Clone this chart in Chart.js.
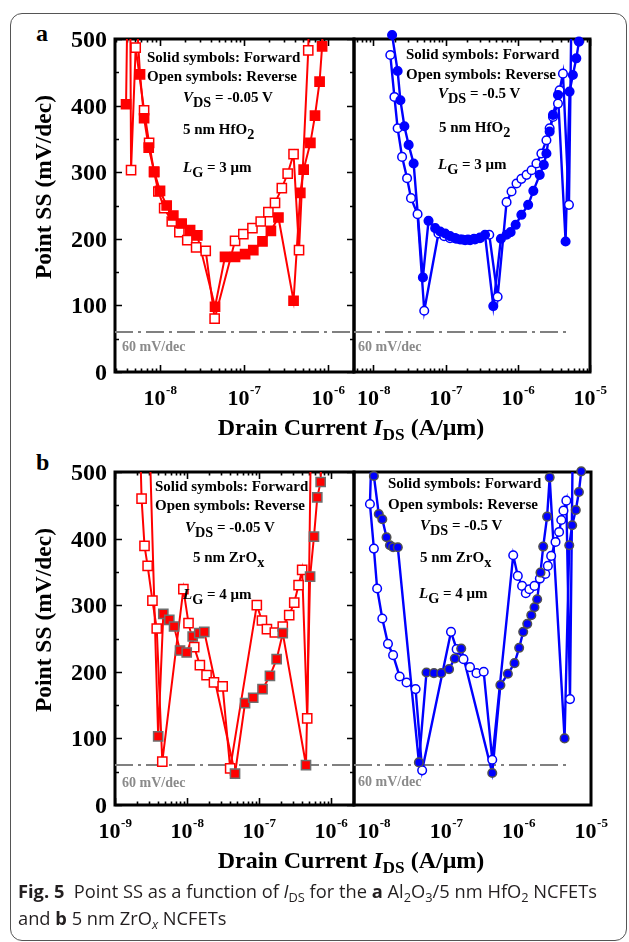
<!DOCTYPE html>
<html>
<head>
<meta charset="utf-8">
<title>Point SS vs drain current</title>
<script src="https://cdn.jsdelivr.net/npm/chart.js@4.4.1/dist/chart.umd.min.js"></script>
<style>
  html, body { margin: 0; padding: 0; background: #fff; }
  #fig { position: relative; width: 629px; height: 942px; overflow: hidden; font-family: 'Liberation Serif', 'Times New Roman', serif; }
  #box { position: absolute; left: 10px; top: 13px; width: 617px; height: 928px; box-sizing: border-box; border: 1.5px solid #555; border-radius: 12px; }
  canvas { position: absolute; }
  .lbl { position: absolute; white-space: nowrap; font-weight: bold; line-height: 1; color: #000; }
  .note { font-size: 15px; }
  .lo { position: relative; top: 0.38em; font-size: 0.95em; }
  .gray { color: #8a8a8a; font-size: 14px; }
  .ytitle { font-size: 23.5px; transform: translate(-50%, -50%) rotate(-90deg); }
  .xtitle { font-size: 24px; transform: translateX(-50%); }
  .xtitle .lo { font-size: 0.72em; top: 0.3em; }
  .panel { font-size: 24px; }
  .cap { position: absolute; left: 18px; white-space: nowrap; font-family: 'Open Sans', sans-serif; font-size: 18.3px; line-height: 1; color: #231f20; }
  .cap sub { font-size: 0.7em; vertical-align: -0.3em; line-height: 0; }
</style>
</head>
<body>
<div id="fig">
  <div id="box"></div>

  <canvas id="aLeft"></canvas>
  <canvas id="aRight"></canvas>
  <canvas id="bLeft"></canvas>
  <canvas id="bRight"></canvas>

  <div class="lbl panel" style="left:36px;top:21px">a</div>
  <div class="lbl panel" style="left:36px;top:450px">b</div>

  <div class="lbl ytitle" style="left:44px;top:187px">Point SS (mV/dec)</div>
  <div class="lbl ytitle" style="left:44px;top:620px">Point SS (mV/dec)</div>

  <div class="lbl xtitle" style="left:351px;top:415px">Drain Current <i>I</i><span class="lo">DS</span> (A/μm)</div>
  <div class="lbl xtitle" style="left:351px;top:848px">Drain Current <i>I</i><span class="lo">DS</span> (A/μm)</div>

  <!-- (a) HfO2 notes -->
  <div class="lbl note" style="left:147px;top:50px">Solid symbols: Forward</div>
  <div class="lbl note" style="left:147px;top:69px">Open symbols: Reverse</div>
  <div class="lbl note" style="left:183px;top:90px"><i>V</i><span class="lo">DS</span> = -0.05 V</div>
  <div class="lbl note" style="left:183px;top:122px">5 nm HfO<span class="lo">2</span></div>
  <div class="lbl note" style="left:183px;top:160px"><i>L</i><span class="lo">G</span> = 3 μm</div>
  <div class="lbl note gray" style="left:122px;top:340px">60 mV/dec</div>

  <div class="lbl note" style="left:406px;top:47px">Solid symbols: Forward</div>
  <div class="lbl note" style="left:406px;top:67px">Open symbols: Reverse</div>
  <div class="lbl note" style="left:438px;top:86px"><i>V</i><span class="lo">DS</span> = -0.5 V</div>
  <div class="lbl note" style="left:439px;top:120px">5 nm HfO<span class="lo">2</span></div>
  <div class="lbl note" style="left:438px;top:157px"><i>L</i><span class="lo">G</span> = 3 μm</div>
  <div class="lbl note gray" style="left:358px;top:340px">60 mV/dec</div>

  <!-- (b) ZrOx notes -->
  <div class="lbl note" style="left:155px;top:479px">Solid symbols: Forward</div>
  <div class="lbl note" style="left:155px;top:498px">Open symbols: Reverse</div>
  <div class="lbl note" style="left:185px;top:520px"><i>V</i><span class="lo">DS</span> = -0.05 V</div>
  <div class="lbl note" style="left:193px;top:550px">5 nm ZrO<span class="lo">x</span></div>
  <div class="lbl note" style="left:183px;top:587px"><i>L</i><span class="lo">G</span> = 4 μm</div>
  <div class="lbl note gray" style="left:122px;top:776px">60 mV/dec</div>

  <div class="lbl note" style="left:388px;top:476px">Solid symbols: Forward</div>
  <div class="lbl note" style="left:388px;top:497px">Open symbols: Reverse</div>
  <div class="lbl note" style="left:420px;top:518px"><i>V</i><span class="lo">DS</span> = -0.5 V</div>
  <div class="lbl note" style="left:420px;top:550px">5 nm ZrO<span class="lo">x</span></div>
  <div class="lbl note" style="left:419px;top:586px"><i>L</i><span class="lo">G</span> = 4 μm</div>
  <div class="lbl note gray" style="left:358px;top:775px">60 mV/dec</div>

  <div class="cap" style="top:882px"><b>Fig. 5</b>&nbsp; Point SS as a function of <i>I</i><sub>DS</sub> for the <b>a</b> Al<sub>2</sub>O<sub>3</sub>/5 nm HfO<sub>2</sub> NCFETs</div>
  <div class="cap" style="top:909px">and <b>b</b> 5 nm ZrO<sub><i>x</i></sub> NCFETs</div>
</div>

<script>
// Point SS (mV/dec) versus drain current IDS (A/um), pairs of [IDS, SS].
// Values above 500 run off the top of the frame.

// (a) Al2O3 / 5 nm HfO2, LG = 3 um, VDS = -0.05 V
const aLeftForward = [
  [3.94e-9, 402], [4.27e-9, 720], [5.78e-9, 447], [6.46e-9, 381], [7.33e-9, 337],
  [8.51e-9, 301], [1.00e-8, 272], [1.20e-8, 250], [1.44e-8, 235], [1.81e-8, 223],
  [2.28e-8, 213], [2.78e-8, 205], [4.52e-8, 98], [5.94e-8, 173], [7.82e-8, 173],
  [1.03e-7, 177], [1.29e-7, 183], [1.66e-7, 196], [2.09e-7, 212], [2.57e-7, 232],
  [3.89e-7, 107], [4.68e-7, 269], [5.13e-7, 304], [6.17e-7, 344], [7.00e-7, 385],
  [7.94e-7, 436], [8.51e-7, 489], [9.12e-7, 620]
];
const aLeftReverse = [
  [4.37e-9, 680], [4.52e-9, 303], [5.13e-9, 487], [6.46e-9, 393], [7.41e-9, 344],
  [8.51e-9, 300], [9.55e-9, 271], [1.12e-8, 246], [1.38e-8, 226], [1.70e-8, 210],
  [2.11e-8, 198], [2.69e-8, 187], [3.50e-8, 182], [4.47e-8, 80], [7.82e-8, 197],
  [9.82e-8, 207], [1.26e-7, 216], [1.58e-7, 226], [1.95e-7, 240], [2.34e-7, 254],
  [2.82e-7, 276], [3.31e-7, 298], [3.89e-7, 327], [4.52e-7, 183], [5.82e-7, 483],
  [6.17e-7, 640]
];

// (a) VDS = -0.5 V
const aRightForward = [
  [1.81e-8, 506], [2.16e-8, 452], [2.36e-8, 408], [2.68e-8, 369], [3.07e-8, 341],
  [3.60e-8, 313], [4.84e-8, 142], [5.79e-8, 227], [7.16e-8, 216], [8.39e-8, 211],
  [9.84e-8, 208], [1.15e-7, 204], [1.35e-7, 201], [1.58e-7, 199], [1.86e-7, 198],
  [2.18e-7, 198], [2.55e-7, 199], [2.99e-7, 202], [3.51e-7, 206], [4.57e-7, 99],
  [5.83e-7, 200], [6.98e-7, 206], [7.94e-7, 210], [9.33e-7, 221], [1.12e-6, 236],
  [1.39e-6, 251], [1.64e-6, 272], [2.01e-6, 296], [2.29e-6, 311], [2.49e-6, 328],
  [2.76e-6, 361], [3.07e-6, 386], [3.60e-6, 416], [4.59e-6, 196], [5.21e-6, 421],
  [5.79e-6, 446], [6.46e-6, 471], [7.03e-6, 496]
];
const aRightReverse = [
  [1.71e-8, 476], [1.95e-8, 413], [2.16e-8, 366], [2.49e-8, 323], [2.92e-8, 291],
  [3.31e-8, 261], [4.08e-8, 237], [5.05e-8, 92], [7.94e-8, 208], [9.55e-8, 204],
  [1.15e-7, 201], [1.40e-7, 200], [1.69e-7, 199], [2.04e-7, 199], [2.47e-7, 200],
  [2.99e-7, 201], [4.02e-7, 206], [5.25e-7, 113], [6.98e-7, 255], [8.18e-7, 271],
  [9.59e-7, 283], [1.12e-6, 290], [1.32e-6, 296], [1.55e-6, 303], [1.81e-6, 313],
  [2.12e-6, 328], [2.49e-6, 348], [2.76e-6, 366], [3.07e-6, 383], [3.60e-6, 403],
  [3.79e-6, 423], [4.22e-6, 448], [5.11e-6, 251], [5.56e-6, 560]
];

// (b) 5 nm ZrOx, LG = 4 um, VDS = -0.05 V
const bLeftForward = [
  [2.75e-9, 700], [3.98e-9, 103], [4.69e-9, 287], [5.68e-9, 278], [6.61e-9, 268],
  [8.00e-9, 232], [9.91e-9, 229], [1.20e-8, 253], [1.48e-8, 258], [1.74e-8, 260],
  [4.65e-8, 47], [6.40e-8, 153], [8.32e-8, 161], [1.12e-7, 174], [1.42e-7, 194],
  [1.76e-7, 219], [2.14e-7, 258], [4.50e-7, 60], [5.13e-7, 343], [5.81e-7, 403],
  [6.46e-7, 462], [7.19e-7, 485], [7.59e-7, 600]
];
const bLeftReverse = [
  [2.21e-9, 560], [2.34e-9, 460], [2.57e-9, 389], [2.84e-9, 359], [3.31e-9, 307],
  [3.80e-9, 265], [4.54e-9, 65], [8.91e-9, 324], [1.05e-8, 273], [1.26e-8, 237],
  [1.51e-8, 210], [1.87e-8, 195], [2.37e-8, 184], [3.13e-8, 178], [3.98e-8, 55],
  [9.33e-8, 300], [1.10e-7, 277], [1.29e-7, 264], [1.66e-7, 259], [2.14e-7, 268],
  [2.63e-7, 285], [3.09e-7, 304], [3.55e-7, 330], [3.98e-7, 353], [4.68e-7, 130],
  [5.37e-7, 620]
];

// (b) VDS = -0.5 V
const bRightForward = [
  [1.01e-8, 494], [1.18e-8, 437], [1.32e-8, 429], [1.51e-8, 402], [1.68e-8, 390],
  [1.86e-8, 387], [2.16e-8, 387], [4.22e-8, 64], [5.37e-8, 199], [6.81e-8, 198],
  [8.59e-8, 198], [1.10e-7, 204], [1.32e-7, 220], [1.62e-7, 235], [4.34e-7, 48],
  [5.62e-7, 180], [7.13e-7, 197], [8.81e-7, 213], [1.02e-6, 236], [1.16e-6, 260],
  [1.32e-6, 272], [1.50e-6, 285], [1.66e-6, 297], [1.81e-6, 309], [2.01e-6, 349],
  [2.19e-6, 388], [2.48e-6, 433], [2.69e-6, 492], [4.32e-6, 100], [5.01e-6, 390],
  [5.50e-6, 420], [6.17e-6, 443], [6.81e-6, 470], [7.33e-6, 501]
];
const bRightReverse = [
  [9.55e-9, 560], [8.91e-9, 452], [1.01e-8, 385], [1.12e-8, 325], [1.32e-8, 280],
  [1.58e-8, 242], [1.86e-8, 225], [2.29e-8, 193], [2.85e-8, 184], [3.80e-8, 174],
  [4.68e-8, 52], [1.17e-7, 260], [1.40e-7, 234], [1.74e-7, 219], [2.14e-7, 207],
  [2.63e-7, 198], [3.31e-7, 200], [4.34e-7, 68], [8.45e-7, 375], [9.77e-7, 344],
  [1.12e-6, 329], [1.26e-6, 318], [1.41e-6, 324], [1.66e-6, 329], [1.97e-6, 340],
  [2.34e-6, 347], [2.54e-6, 359], [2.82e-6, 374], [3.24e-6, 395], [3.63e-6, 410],
  [3.89e-6, 428], [4.17e-6, 442], [4.57e-6, 457], [5.13e-6, 159], [5.62e-6, 560]
];

// x ranges of the four frames (A/um)
const aLeftRange = [2.91e-9, 2.04e-6];
const aRightRange = [5.37e-9, 1e-5];
const bLeftRange = [1e-9, 2.09e-6];
const bRightRange = [5.37e-9, 1e-5];

// decade labels, 10^n
const aLeftDecades = [-8, -7, -6];
const aRightDecades = [-8, -7, -6, -5];
const bLeftDecades = [-9, -8, -7, -6];
const bRightDecades = [-8, -7, -6, -5];

// SS axis
const ssRange = [0, 500];
const ssLabels = [0, 100, 200, 300, 400, 500];

// 60 mV/dec thermionic limit, the right frames stop it short of the edge
const idealSS = 60;
const idealRightEnd = 4.9e-6;

// frame, inward ticks and tick labels
const frameAxes = {
  id: 'frameAxes',
  beforeDatasetsDraw(chart, args, opts) {
    const { ctx, chartArea: a, scales: { x, y } } = chart;
    ctx.save();
    ctx.strokeStyle = '#000';
    ctx.lineWidth = 1.6;
    ctx.beginPath();
    if (opts.xTicks) {
      const lo = Math.floor(Math.log10(x.min));
      const hi = Math.ceil(Math.log10(x.max));
      for (let d = lo; d <= hi; d++) {
        for (let k = 1; k <= 9; k++) {
          const v = k * Math.pow(10, d);
          if (v < x.min * 0.999 || v > x.max * 1.001) continue;
          const px = Math.round(x.getPixelForValue(v)) + 0.5;
          const len = k === 1 ? 7 : 3.5;
          ctx.moveTo(px, a.bottom);
          ctx.lineTo(px, a.bottom - len);
          if (opts.topTicks) {
            ctx.moveTo(px, a.top);
            ctx.lineTo(px, a.top + len);
          }
        }
      }
    }
    if (opts.yTicks) {
      for (let v = ssRange[0]; v <= ssRange[1]; v += 50) {
        const py = Math.round(y.getPixelForValue(v)) + 0.5;
        const len = v % 100 === 0 ? 7 : 4;
        ctx.moveTo(a.left, py);
        ctx.lineTo(a.left + len, py);
        ctx.moveTo(a.right, py);
        ctx.lineTo(a.right - len, py);
      }
    }
    ctx.stroke();
    ctx.lineWidth = 3;
    ctx.strokeRect(a.left, a.top, a.right - a.left, a.bottom - a.top);
    ctx.restore();
  },
  afterDraw(chart, args, opts) {
    const { ctx, chartArea: a, scales: { x, y } } = chart;
    ctx.save();
    ctx.fillStyle = '#000';
    if (opts.ssLabels) {
      ctx.font = 'bold 24px "Liberation Serif"';
      ctx.textAlign = 'right';
      opts.ssLabels.forEach(v => ctx.fillText(String(v), a.left - 8, y.getPixelForValue(v) + 8));
    }
    if (opts.decades) {
      ctx.textAlign = 'left';
      const base = a.bottom + 33;
      opts.decades.forEach(n => {
        const px = x.getPixelForValue(Math.pow(10, n));
        const exp = '-' + Math.abs(n);
        ctx.font = 'bold 22px "Liberation Serif"';
        const wBase = ctx.measureText('10').width;
        ctx.font = 'bold 13px "Liberation Serif"';
        const wExp = ctx.measureText(exp).width;
        const x0 = px - (wBase + wExp) / 2;
        ctx.font = 'bold 22px "Liberation Serif"';
        ctx.fillText('10', x0, base);
        ctx.font = 'bold 13px "Liberation Serif"';
        ctx.fillText(exp, x0 + wBase + 0.5, base - 11);
      });
    }
    ctx.restore();
  }
};

const toXY = pairs => pairs.map(p => ({ x: p[0], y: p[1] }));

function drawPanel(id, plot, pad, range, fwd, rev, look, axes) {
  const cv = document.getElementById(id);
  cv.width = plot.w + pad.l + pad.r;
  cv.height = plot.h + pad.t + pad.b;
  cv.style.left = (plot.x - pad.l) + 'px';
  cv.style.top = (plot.y - pad.t) + 'px';

  const marker = {
    showLine: false,
    pointStyle: look.shape,
    pointRadius: look.r,
    pointHoverRadius: look.r,
    pointBorderWidth: 1.5,
    clip: false
  };

  new Chart(cv, {
    type: 'line',
    data: {
      datasets: [
        {
          data: [{ x: range[0], y: idealSS }, { x: look.idealEnd, y: idealSS }],
          borderColor: '#808080', borderWidth: 2, borderDash: [18, 5, 3, 5],
          pointRadius: 0, order: 5
        },
        { data: toXY(fwd), borderColor: look.color, borderWidth: look.lw, pointRadius: 0, clip: 0, order: 4 },
        { data: toXY(rev), borderColor: look.color, borderWidth: look.lw, pointRadius: 0, clip: 0, order: 3 },
        Object.assign({ data: toXY(rev), pointBackgroundColor: '#fff', pointBorderColor: look.color, order: 2 }, marker),
        Object.assign({ data: toXY(fwd), pointBackgroundColor: look.color, pointBorderColor: look.edge, order: 1 }, marker)
      ]
    },
    options: {
      responsive: false,
      animation: false,
      events: [],
      layout: { padding: { left: pad.l, right: pad.r, top: pad.t, bottom: pad.b } },
      scales: {
        x: { type: 'logarithmic', min: range[0], max: range[1], display: false },
        y: { type: 'linear', min: ssRange[0], max: ssRange[1], display: false }
      },
      plugins: {
        legend: { display: false },
        tooltip: { enabled: false },
        frameAxes: axes
      }
    },
    plugins: [frameAxes]
  });
}

const padLeft = { l: 60, r: 8, t: 12, b: 48 };
const padRight = { l: 8, r: 30, t: 12, b: 48 };

drawPanel('aLeft', { x: 115, y: 39, w: 239, h: 333 }, padLeft, aLeftRange, aLeftForward, aLeftReverse,
  { color: '#ff0000', edge: '#ff0000', shape: 'rect', r: 6.5, lw: 2, idealEnd: aLeftRange[1] },
  { xTicks: true, topTicks: true, yTicks: true, ssLabels: ssLabels, decades: aLeftDecades });

drawPanel('aRight', { x: 354, y: 39, w: 236, h: 333 }, padRight, aRightRange, aRightForward, aRightReverse,
  { color: '#0000ff', edge: '#0000ff', shape: 'circle', r: 4.3, lw: 2.4, idealEnd: idealRightEnd },
  { xTicks: true, topTicks: true, yTicks: false, decades: aRightDecades });

drawPanel('bLeft', { x: 115, y: 472, w: 239, h: 333 }, padLeft, bLeftRange, bLeftForward, bLeftReverse,
  { color: '#ff0000', edge: '#6e6e6e', shape: 'rect', r: 6.5, lw: 2, idealEnd: bLeftRange[1] },
  { xTicks: true, topTicks: true, yTicks: true, ssLabels: ssLabels, decades: bLeftDecades });

drawPanel('bRight', { x: 354, y: 472, w: 237, h: 333 }, padRight, bRightRange, bRightForward, bRightReverse,
  { color: '#0000ff', edge: '#505050', shape: 'circle', r: 4.3, lw: 2.4, idealEnd: idealRightEnd },
  { xTicks: false, topTicks: false, yTicks: false, decades: bRightDecades });
</script>
</body>
</html>
